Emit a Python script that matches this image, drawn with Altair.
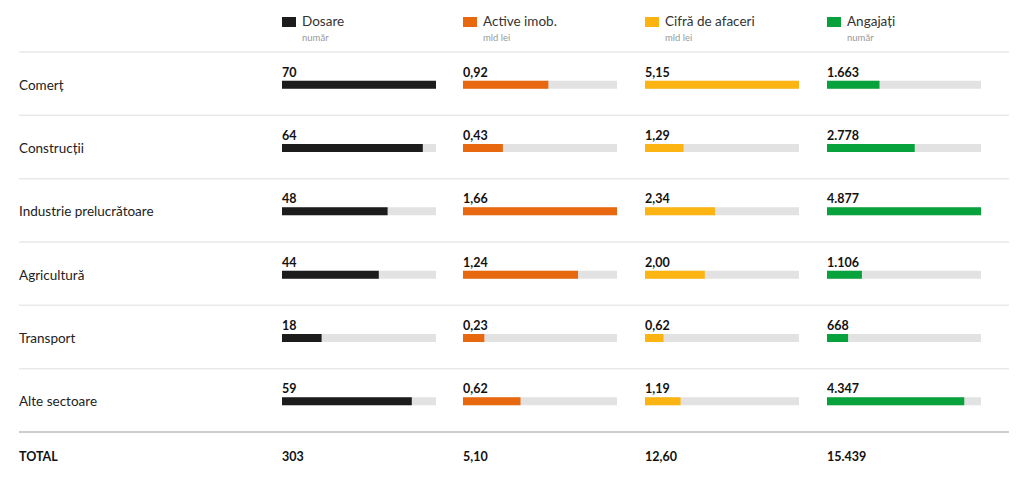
import altair as alt
import pandas as pd

sectors = ["Comerț", "Construcții", "Industrie prelucrătoare", "Agricultură", "Transport", "Alte sectoare"]
dosare = [70, 64, 48, 44, 18, 59]
active = [0.92, 0.43, 1.66, 1.24, 0.23, 0.62]
cifra = [5.15, 1.29, 2.34, 2.00, 0.62, 1.19]
angajati = [1663, 2778, 4877, 1106, 668, 4347]

titles = ["Dosare", "Active imob.", "Cifră de afaceri", "Angajați"]
units = ["număr", "mld lei", "mld lei", "număr"]
colors = ["#1c1c1c", "#e8680f", "#fbb412", "#08a23c"]
totals = ["303", "5,10", "12,60", "15.439"]

def fmt_dec(v):
    return f"{v:.2f}".replace(".", ",")

def fmt_int(v):
    return f"{v:,}".replace(",", ".")

series = [
    (dosare, lambda v: str(v)),
    (active, fmt_dec),
    (cifra, fmt_dec),
    (angajati, fmt_int),
]

FONT = "Lato"
H = 485
TRACK = 154
ybase = dict(domain=sectors, range=[52, 432], paddingInner=0, paddingOuter=0)

def ysc():
    return alt.Scale(**ybase)

def rules(width):
    df = pd.DataFrame({"sector": sectors, "last": [i == len(sectors) - 1 for i in range(len(sectors))]})
    base = alt.Chart(df)
    top = base.mark_rule(color="#e9e9e9", strokeWidth=1.5).encode(
        y=alt.Y("sector:N", scale=ysc(), axis=None, bandPosition=0, sort=sectors),
        x=alt.value(0), x2=alt.value(width),
    )
    bottom = base.transform_filter("datum.last").mark_rule(color="#bdbdbd", strokeWidth=1.5).encode(
        y=alt.Y("sector:N", scale=ysc(), axis=None, bandPosition=1, sort=sectors),
        x=alt.value(0), x2=alt.value(width),
    )
    return [top, bottom]

# Left label panel
LW = 263
lab_df = pd.DataFrame({"sector": sectors})
labels = alt.Chart(lab_df).mark_text(align="left", baseline="middle", font=FONT, fontSize=13.5, color="#222", dy=2).encode(
    y=alt.Y("sector:N", scale=ysc(), axis=None, sort=sectors),
    x=alt.value(0),
    text="sector:N",
)
total_lab = alt.Chart(pd.DataFrame({"t": ["TOTAL"]})).mark_text(
    align="left", baseline="middle", font=FONT, fontSize=12.5, fontWeight="bold", color="#111"
).encode(x=alt.value(0), y=alt.value(457), text="t:N")
left = alt.layer(*rules(LW), labels, total_lab).properties(width=LW, height=H)

panels = [left]
widths = [181, 182, 182, 182]
for i, (vals, f) in enumerate(series):
    w = widths[i]
    df = pd.DataFrame({"sector": sectors, "v": vals, "label": [f(v) for v in vals]})
    xs = alt.Scale(domain=[0, max(vals)], range=[0, TRACK])
    base = alt.Chart(df)
    track = base.mark_bar(size=8, yOffset=1, color="#e2e2e2").encode(
        y=alt.Y("sector:N", scale=ysc(), axis=None, sort=sectors),
        x=alt.value(0), x2=alt.value(TRACK),
    )
    bar = base.mark_bar(size=8, yOffset=1, color=colors[i]).encode(
        y=alt.Y("sector:N", scale=ysc(), axis=None, sort=sectors),
        x=alt.X("v:Q", scale=xs, axis=None),
    )
    txt = base.mark_text(align="left", baseline="alphabetic", dy=-7, font=FONT, fontSize=12.5,
                         fontWeight="bold", color="#111").encode(
        y=alt.Y("sector:N", scale=ysc(), axis=None, sort=sectors),
        x=alt.value(0),
        text="label:N",
    )
    hd = alt.Chart(pd.DataFrame({"t": [titles[i]], "u": [units[i]]}))
    sq = hd.mark_rect(color=colors[i]).encode(x=alt.value(0), x2=alt.value(14), y=alt.value(17), y2=alt.value(27))
    ttl = hd.mark_text(align="left", baseline="alphabetic", font=FONT, fontSize=13.5, color="#333").encode(
        x=alt.value(20), y=alt.value(26), text="t:N")
    unit = hd.mark_text(align="left", baseline="alphabetic", font=FONT, fontSize=9.5, color="#999").encode(
        x=alt.value(20), y=alt.value(41), text="u:N")
    tot = alt.Chart(pd.DataFrame({"t": [totals[i]]})).mark_text(
        align="left", baseline="middle", font=FONT, fontSize=12.5, fontWeight="bold", color="#111"
    ).encode(x=alt.value(0), y=alt.value(457), text="t:N")
    p = alt.layer(*rules(w), track, bar, txt, sq, ttl, unit, tot).properties(width=w, height=H)
    panels.append(p)

chart = alt.hconcat(*panels, spacing=0, bounds="flush").resolve_scale(x="independent", y="shared").properties(
    padding={"left": 18, "top": 0, "right": 0, "bottom": 0},
    background="white",
).configure_view(stroke=None).configure_concat(spacing=0)

chart.save("out.html", embed_options={"renderer": "svg", "actions": False})
